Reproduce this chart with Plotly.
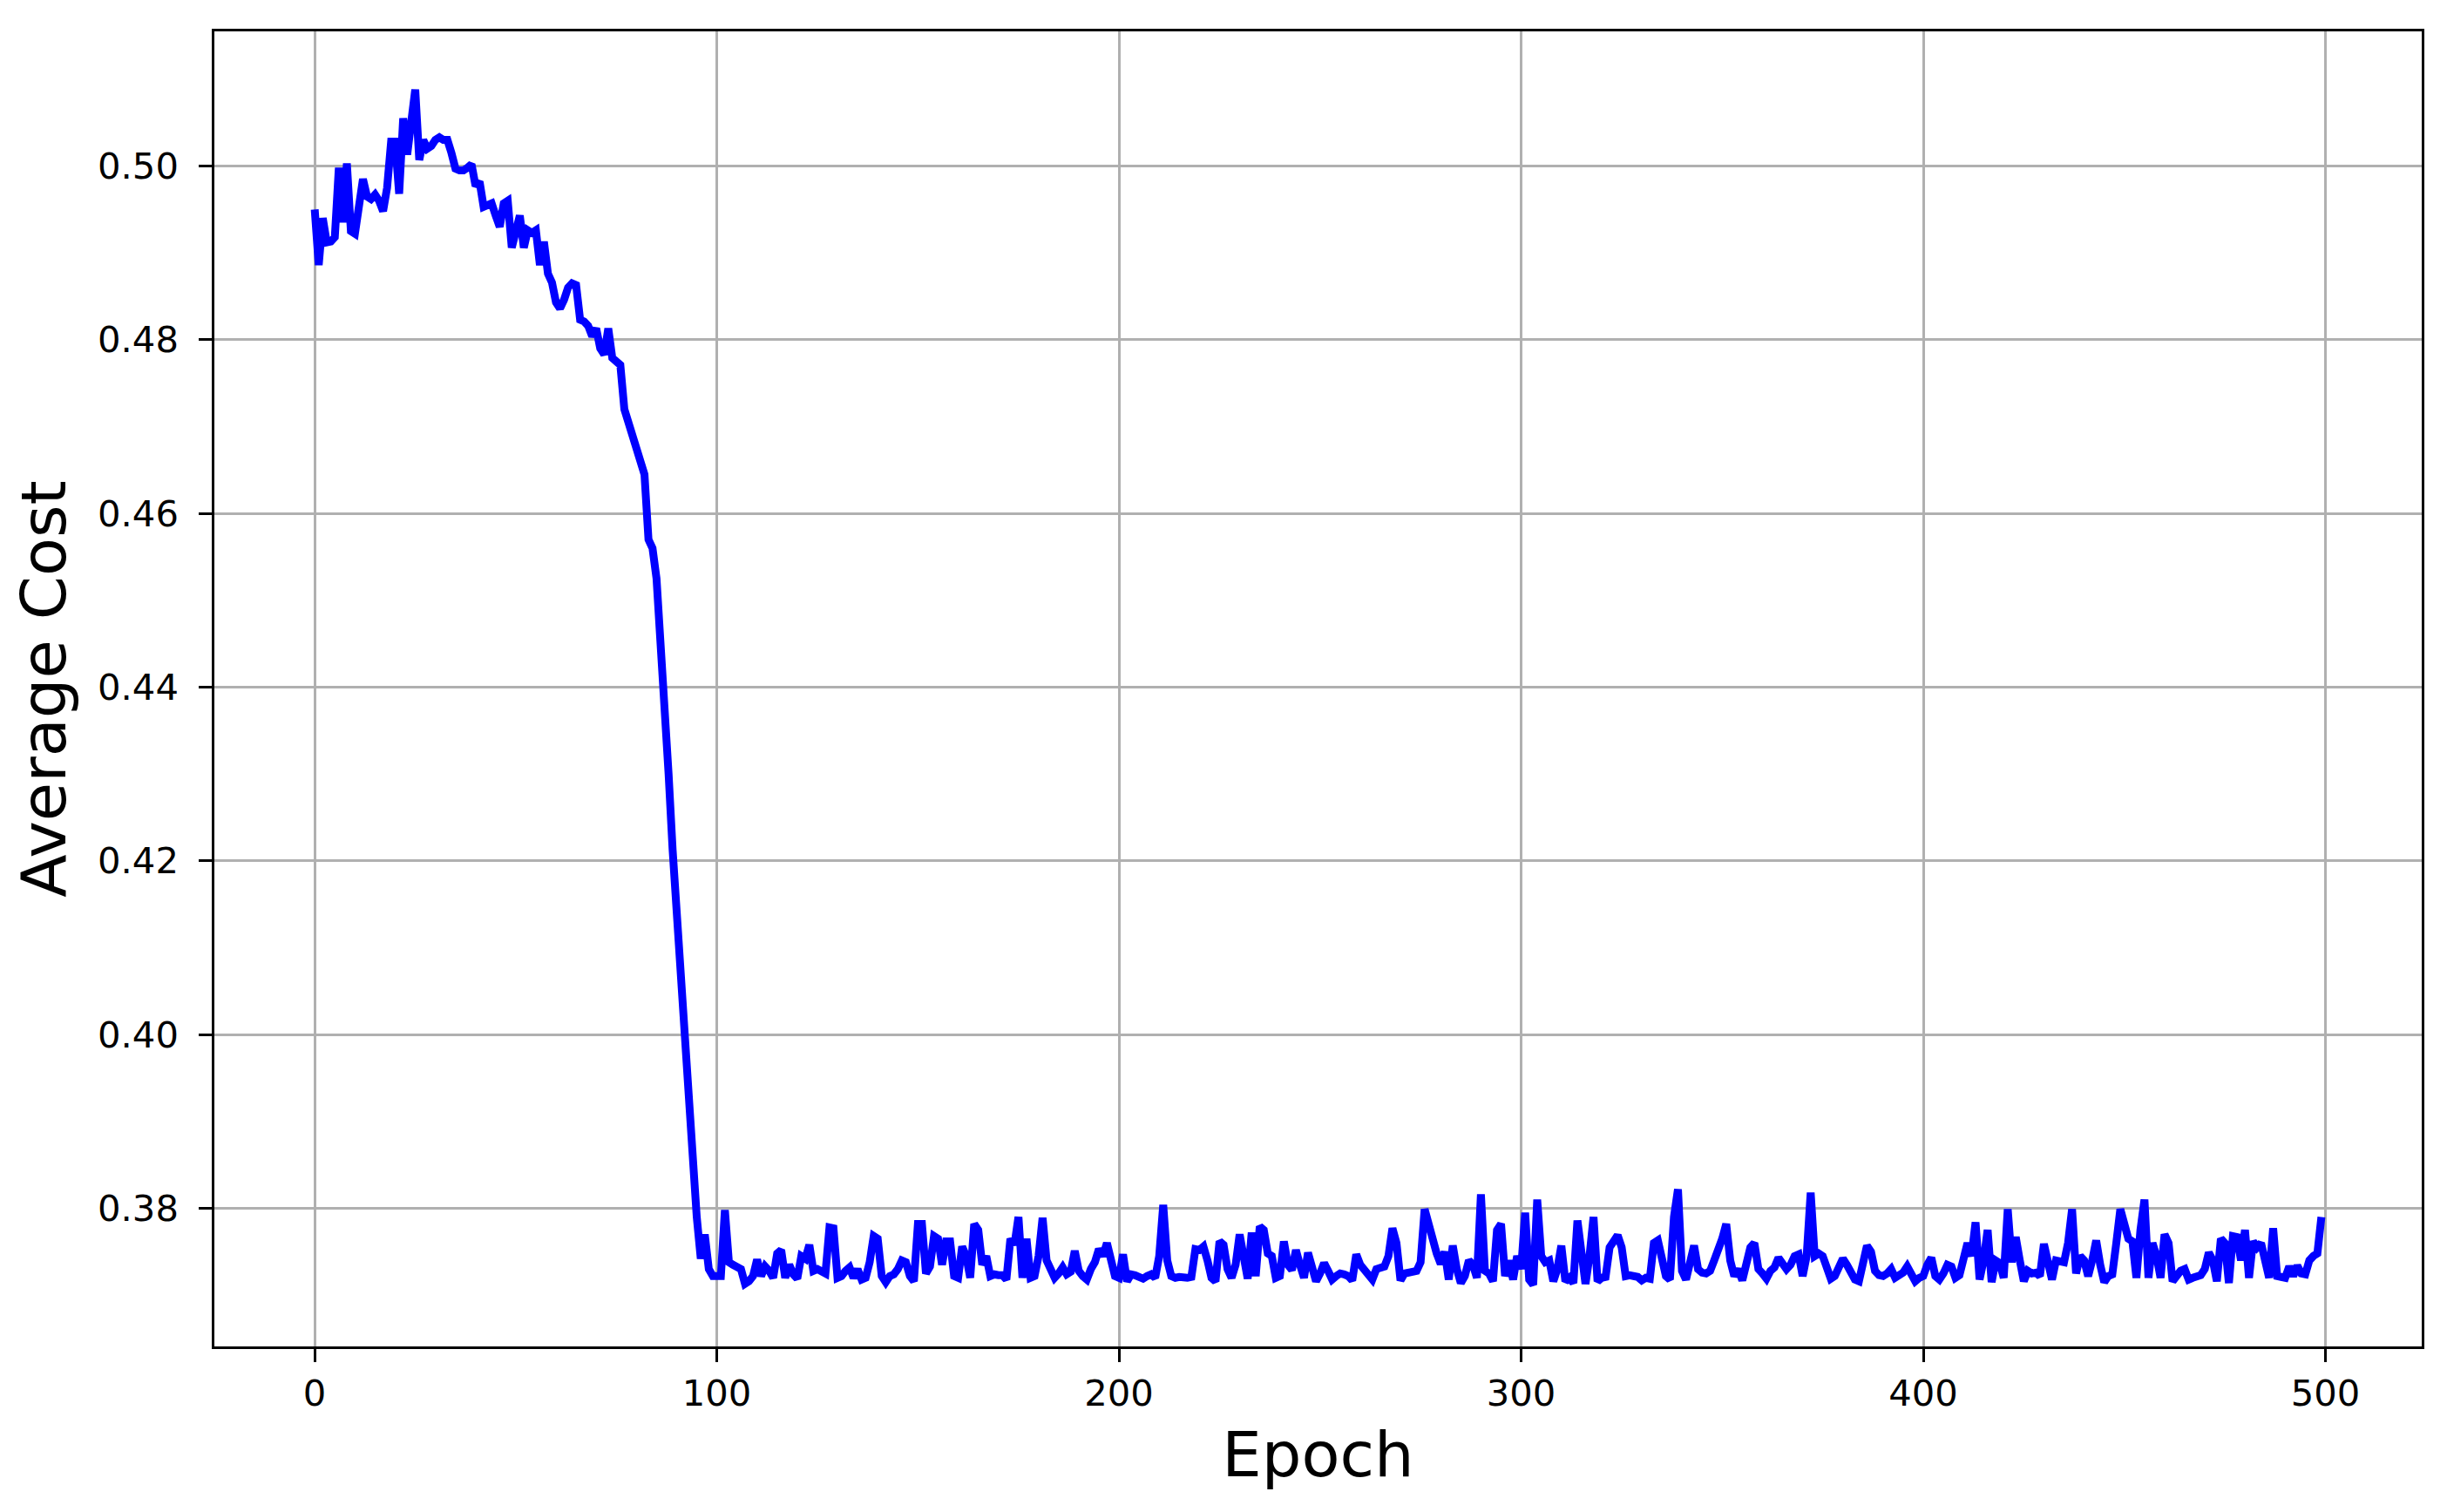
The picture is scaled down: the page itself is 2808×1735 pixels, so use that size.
import plotly.graph_objects as go

# Average cost per epoch
cost_0_99 = [
    0.4950, 0.4886, 0.4940, 0.4912, 0.4913, 0.4918, 0.4998, 0.4935, 0.5003, 0.4925,
    0.4922, 0.4950, 0.4985, 0.4965, 0.4962, 0.4967, 0.4960, 0.4948, 0.4975, 0.5028,
    0.5028, 0.4968, 0.5055, 0.5013, 0.5047, 0.5088, 0.5007, 0.5030, 0.5020, 0.5023,
    0.5030, 0.5033, 0.5030, 0.5030, 0.5015, 0.4997, 0.4995, 0.4995, 0.4998, 0.5002,
    0.4977, 0.4982, 0.4953, 0.4955, 0.4957, 0.4943, 0.4930, 0.4957, 0.4960, 0.4906,
    0.4930, 0.4943, 0.4906, 0.4926, 0.4923, 0.4926, 0.4886, 0.4913, 0.4876, 0.4866,
    0.4843, 0.4836, 0.4846, 0.4860, 0.4865, 0.4863, 0.4823, 0.4821, 0.4816, 0.4804,
    0.4813, 0.4790, 0.4783, 0.4813, 0.4779, 0.4776, 0.4771, 0.4720, 0.4705, 0.4695,
    0.4678, 0.4662, 0.4645, 0.4570, 0.4560, 0.4525, 0.4460, 0.4385, 0.4300, 0.4213,
    0.4140, 0.4070, 0.4000, 0.3935, 0.3860, 0.3790, 0.3742, 0.3770, 0.3730, 0.3722,
]
cost_100_199 = [
    0.3722, 0.3722, 0.3798, 0.3738, 0.3735, 0.3733, 0.3730, 0.3713, 0.3716, 0.3722,
    0.3741, 0.3722, 0.3733, 0.3728, 0.3720, 0.3748, 0.3752, 0.3720, 0.3735, 0.3724,
    0.3719, 0.3745, 0.3742, 0.3758, 0.3728, 0.3730, 0.3727, 0.3725, 0.3778, 0.3777,
    0.3720, 0.3722, 0.3728, 0.3732, 0.3720, 0.3730, 0.3718, 0.3720, 0.3738, 0.3768,
    0.3765, 0.3722, 0.3715, 0.3722, 0.3724, 0.3730, 0.3740, 0.3738, 0.3722, 0.3716,
    0.3782, 0.3782, 0.3725, 0.3733, 0.3768, 0.3765, 0.3735, 0.3762, 0.3762, 0.3722,
    0.3720, 0.3756, 0.3745, 0.3720, 0.3782, 0.3775, 0.3735, 0.3745, 0.3722, 0.3724,
    0.3723, 0.3723, 0.3718, 0.3765, 0.3758, 0.3790, 0.3720, 0.3765, 0.3720, 0.3722,
    0.3745, 0.3789, 0.3740, 0.3729, 0.3720, 0.3725, 0.3732, 0.3724, 0.3727, 0.3751,
    0.3728, 0.3722, 0.3718, 0.3730, 0.3738, 0.3753, 0.3745, 0.3760, 0.3738, 0.3722,
]
cost_200_299 = [
    0.3720, 0.3747, 0.3716, 0.3724, 0.3723, 0.3720, 0.3719, 0.3722, 0.3724, 0.3720,
    0.3745, 0.3804, 0.3740, 0.3722, 0.3720, 0.3721, 0.3720, 0.3720, 0.3721, 0.3753,
    0.3752, 0.3756, 0.3740, 0.3720, 0.3716, 0.3762, 0.3758, 0.3730, 0.3720, 0.3735,
    0.3770, 0.3740, 0.3719, 0.3772, 0.3722, 0.3779, 0.3775, 0.3748, 0.3745, 0.3720,
    0.3722, 0.3762, 0.3735, 0.3729, 0.3752, 0.3735, 0.3720, 0.3749, 0.3735, 0.3716,
    0.3725, 0.3737, 0.3728, 0.3718, 0.3722, 0.3725, 0.3724, 0.3722, 0.3717, 0.3747,
    0.3735, 0.3728, 0.3722, 0.3718, 0.3730, 0.3731, 0.3733, 0.3745, 0.3777, 0.3760,
    0.3717, 0.3725, 0.3725, 0.3727, 0.3728, 0.3738, 0.3799, 0.3780, 0.3770, 0.3748,
    0.3736, 0.3750, 0.3718, 0.3757, 0.3730, 0.3714, 0.3722, 0.3740, 0.3735, 0.3720,
    0.3816, 0.3728, 0.3725, 0.3716, 0.3775, 0.3782, 0.3722, 0.3740, 0.3718, 0.3745,
]
cost_300_399 = [
    0.3730, 0.3795, 0.3718, 0.3712, 0.3810, 0.3745, 0.3738, 0.3740, 0.3716, 0.3730,
    0.3757, 0.3716, 0.3720, 0.3714, 0.3786, 0.3745, 0.3713, 0.3745, 0.3790, 0.3716,
    0.3720, 0.3721, 0.3755, 0.3762, 0.3769, 0.3755, 0.3722, 0.3723, 0.3722, 0.3721,
    0.3717, 0.3720, 0.3719, 0.3760, 0.3763, 0.3745, 0.3722, 0.3718, 0.3790, 0.3822,
    0.3728, 0.3718, 0.3740, 0.3757, 0.3730, 0.3726, 0.3725, 0.3728, 0.3740, 0.3750,
    0.3765, 0.3782, 0.3740, 0.3722, 0.3730, 0.3717, 0.3735, 0.3755, 0.3760, 0.3730,
    0.3725, 0.3719, 0.3728, 0.3732, 0.3743, 0.3735, 0.3730, 0.3735, 0.3745, 0.3747,
    0.3722, 0.3745, 0.3818, 0.3745, 0.3748, 0.3745, 0.3728, 0.3719, 0.3722, 0.3735,
    0.3742, 0.3735, 0.3725, 0.3718, 0.3716, 0.3735, 0.3757, 0.3750, 0.3728, 0.3723,
    0.3722, 0.3725, 0.3730, 0.3720, 0.3722, 0.3726, 0.3733, 0.3725, 0.3716, 0.3720,
]
cost_400_499 = [
    0.3722, 0.3735, 0.3743, 0.3722, 0.3718, 0.3725, 0.3735, 0.3733, 0.3720, 0.3723,
    0.3745, 0.3760, 0.3745, 0.3784, 0.3718, 0.3740, 0.3775, 0.3715, 0.3740, 0.3737,
    0.3720, 0.3799, 0.3738, 0.3767, 0.3740, 0.3716, 0.3728, 0.3725, 0.3726, 0.3722,
    0.3759, 0.3735, 0.3718, 0.3740, 0.3740, 0.3738, 0.3760, 0.3799, 0.3725, 0.3745,
    0.3740, 0.3722, 0.3740, 0.3763, 0.3735, 0.3715, 0.3722, 0.3724, 0.3760, 0.3799,
    0.3782, 0.3765, 0.3762, 0.3720, 0.3775, 0.3810, 0.3720, 0.3760, 0.3745, 0.3720,
    0.3770, 0.3760, 0.3716, 0.3722, 0.3728, 0.3730, 0.3718, 0.3720, 0.3721, 0.3723,
    0.3730, 0.3749, 0.3740, 0.3716, 0.3765, 0.3760, 0.3714, 0.3768, 0.3767, 0.3740,
    0.3775, 0.3720, 0.3762, 0.3755, 0.3760, 0.3740, 0.3720, 0.3777, 0.3722, 0.3721,
    0.3720, 0.3733, 0.3722, 0.3734, 0.3725, 0.3724, 0.3740, 0.3745, 0.3748, 0.3790,
]
cost = cost_0_99 + cost_100_199 + cost_200_299 + cost_300_399 + cost_400_499
epochs = list(range(len(cost)))

x_ticks = [0, 100, 200, 300, 400, 500]
y_ticks = [0.38, 0.40, 0.42, 0.44, 0.46, 0.48, 0.50]
y_tick_labels = ["0.38", "0.40", "0.42", "0.44", "0.46", "0.48", "0.50"]

FONT = "DejaVu Sans"

fig = go.Figure()
fig.add_trace(go.Scatter(
    x=epochs, y=cost, mode="lines",
    line=dict(color="#0000ff", width=9),
    showlegend=False, hoverinfo="skip",
))

axis_common = dict(
    showline=True, linecolor="black", linewidth=3.3, mirror=True,
    ticks="outside", ticklen=14.6, tickwidth=3.3, tickcolor="black",
    showgrid=True, gridcolor="#b0b0b0", gridwidth=3.3,
    zeroline=False,
    tickfont=dict(family=FONT, size=41.7, color="black"),
)

fig.update_layout(
    width=2808, height=1735,
    # the page body adds an 8px offset; margins compensate for it
    margin=dict(l=238, r=37, t=28, b=198),
    paper_bgcolor="white", plot_bgcolor="white",
    font=dict(family=FONT, color="black"),
    xaxis=dict(
        range=[-24.95, 523.95], tickvals=x_ticks,
        ticktext=[str(v) for v in x_ticks],
        title=dict(text="Epoch", font=dict(family=FONT, size=72, color="black"), standoff=22),
        **axis_common,
    ),
    yaxis=dict(
        range=[0.3641, 0.5155], tickvals=y_ticks, ticktext=y_tick_labels,
        ticklabelstandoff=15,
        title=dict(text="Average Cost", font=dict(family=FONT, size=72, color="black"), standoff=17),
        **axis_common,
    ),
)

fig.write_html("out.html", config={"displayModeBar": False})
